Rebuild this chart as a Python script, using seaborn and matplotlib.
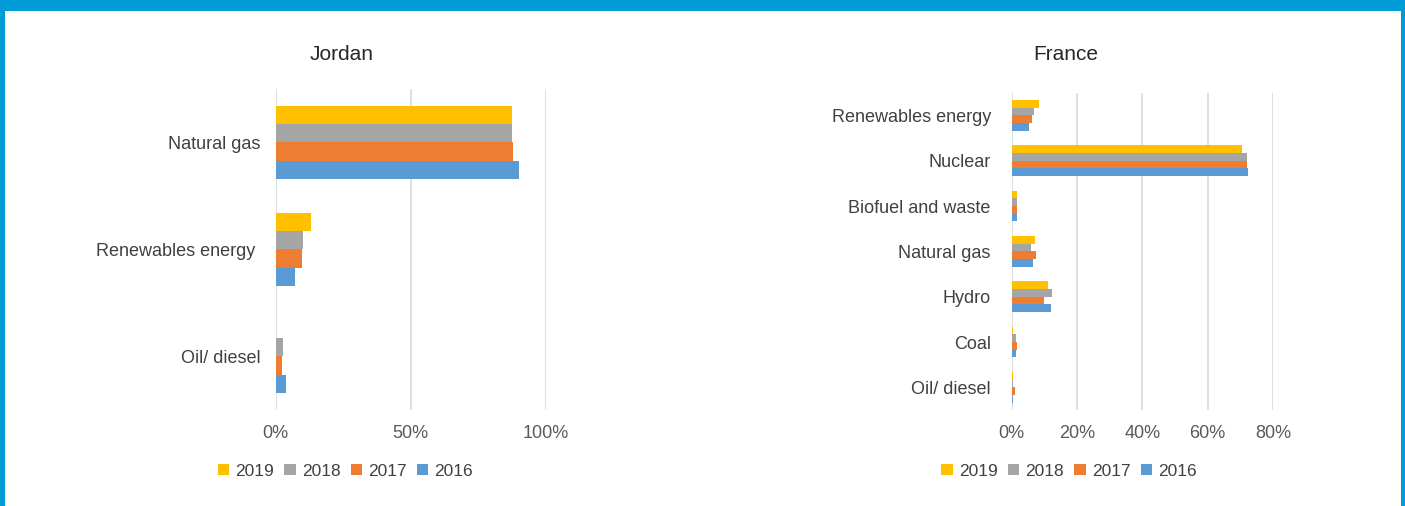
import matplotlib
matplotlib.use("Agg")
import matplotlib.pyplot as plt
from matplotlib.patches import Patch, Rectangle
from matplotlib.ticker import FuncFormatter
import pandas as pd
import seaborn as sns

# Electricity generation mix, share of total (%)
years = ["2019", "2018", "2017", "2016"]
colors = ["#FFC000", "#A5A5A5", "#ED7D31", "#5B9BD5"]

jordan_sources = ["Natural gas", "Renewables energy ", "Oil/ diesel"]
jordan_2019 = [87.3, 13.3, 0.0]
jordan_2018 = [87.3, 10.3, 2.9]
jordan_2017 = [87.8, 9.9, 2.3]
jordan_2016 = [90.0, 7.3, 3.8]

france_sources = ["Renewables energy", "Nuclear", "Biofuel and waste",
                  "Natural gas", "Hydro", "Coal", "Oil/ diesel"]
france_2019 = [8.3, 70.6, 1.6, 7.0, 11.2, 0.4, 0.4]
france_2018 = [6.9, 71.9, 1.6, 5.8, 12.4, 1.2, 0.3]
france_2017 = [6.2, 71.9, 1.6, 7.4, 10.0, 1.7, 0.9]
france_2016 = [5.4, 72.3, 1.7, 6.6, 12.0, 1.2, 0.4]

jordan_ticks = [0, 50, 100]
france_ticks = [0, 20, 40, 60, 80]


def to_long(sources, series):
    rows = []
    for year, vals in zip(years, series):
        for src, v in zip(sources, vals):
            rows.append({"source": src, "year": year, "share": v})
    return pd.DataFrame(rows)


jordan_df = to_long(jordan_sources, [jordan_2019, jordan_2018, jordan_2017, jordan_2016])
france_df = to_long(france_sources, [france_2019, france_2018, france_2017, france_2016])

sns.set_theme(style="white")
plt.rcParams["font.family"] = ["Liberation Sans", "DejaVu Sans"]

W, H = 1405, 506
fig = plt.figure(figsize=(W / 100, H / 100 + 0.002), dpi=100)
fig.patch.set_facecolor("white")


def px_axes(x0, x1, y0, y1):
    return fig.add_axes([x0 / W, (H - y1) / H, (x1 - x0) / W, (y1 - y0) / H])


ax_j = px_axes(275.5, 546, 89, 410)
ax_f = px_axes(1011.7, 1273, 93, 410)

tick_color = "#595959"
grid_color = "#D9D9D9"


def style(ax, df, ticks, xmax, ypad):
    sns.barplot(data=df, x="share", y="source", hue="year", hue_order=years,
                palette=colors, saturation=1, orient="h", width=0.68,
                linewidth=0, legend=False, ax=ax, errorbar=None)
    ax.set_xlim(0, xmax)
    ax.set_xticks(ticks)
    ax.xaxis.set_major_formatter(FuncFormatter(lambda v, _: f"{v:.0f}%"))
    ax.set_xlabel("")
    ax.set_ylabel("")
    for s in ax.spines.values():
        s.set_visible(False)
    ax.set_axisbelow(True)
    ax.grid(axis="x", color=grid_color, linewidth=1.2)
    ax.grid(axis="y", visible=False)
    ax.tick_params(axis="x", length=0, pad=11, labelsize=13, labelcolor=tick_color)
    ax.tick_params(axis="y", length=0, pad=ypad, labelsize=13, labelcolor="#404040")


style(ax_j, jordan_df, jordan_ticks, 100, 11)
style(ax_f, france_df, france_ticks, 80, 15)

title_kw = dict(fontsize=15, color="#262626", ha="center", va="center")
fig.text(342 / W, (H - 54) / H, "Jordan", **title_kw)
fig.text(1066 / W, (H - 54) / H, "France", **title_kw)

handles = [Patch(facecolor=c, edgecolor="none", label=y) for c, y in zip(colors, years)]
leg_kw = dict(ncol=4, frameon=False, fontsize=12.5, handlelength=0.65,
              handleheight=0.65, handletextpad=0.35, columnspacing=0.6,
              loc="center", labelcolor="#404040")
fig.legend(handles=handles, bbox_to_anchor=(345.5 / W, (H - 471) / H), **leg_kw)
fig.legend(handles=handles, bbox_to_anchor=(1069 / W, (H - 471) / H), **leg_kw)

# Blue frame around the panel
frame = "#009CD5"
fig.patches.extend([
    Rectangle((0, (H - 11) / H), 1, 11 / H + 0.01, transform=fig.transFigure,
              facecolor=frame, edgecolor="none", zorder=10),
    Rectangle((0, 0), 5 / W, 1.01, transform=fig.transFigure,
              facecolor=frame, edgecolor="none", zorder=10),
    Rectangle((1401 / W, 0), 4 / W + 0.01, 1.01, transform=fig.transFigure,
              facecolor=frame, edgecolor="none", zorder=10),
])

fig.savefig("out.png", dpi=100, facecolor="white")
